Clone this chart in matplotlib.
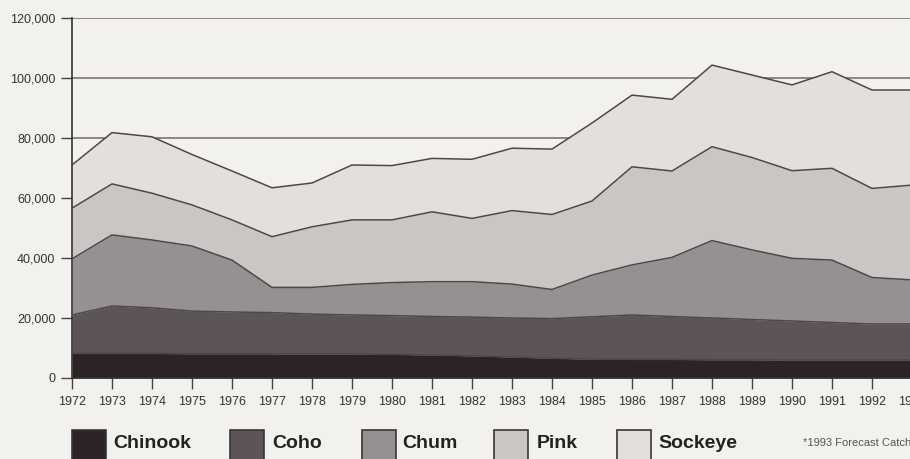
import numpy as np
import matplotlib
matplotlib.use('Agg')
import matplotlib.pyplot as plt
from matplotlib.patches import Rectangle

# catch in thousands of fish, read as cumulative tops of each band
years = list(range(1972, 1994))
chinook_top = [8.2, 8.2, 8.2, 8.1, 8.1, 8.1, 8.0, 8.0, 7.9, 7.7, 7.4, 7.0, 6.6, 6.3, 6.2, 6.2, 6.1, 6.1, 6.0, 6.0, 6.0, 6.0]
coho_top = [21.0, 24.0, 23.4, 22.3, 22.0, 21.8, 21.3, 21.0, 20.8, 20.5, 20.3, 20.0, 19.8, 20.4, 21.0, 20.5, 20.0, 19.5, 19.0, 18.5, 18.0, 18.0]
chum_top = [39.7, 47.7, 46.0, 44.0, 39.3, 30.2, 30.2, 31.2, 31.8, 32.1, 32.1, 31.3, 29.5, 34.3, 37.7, 40.2, 45.8, 42.7, 39.9, 39.3, 33.5, 32.7]
pink_top = [56.6, 64.7, 61.6, 57.7, 52.7, 47.1, 50.4, 52.7, 52.7, 55.4, 53.2, 55.8, 54.5, 59.0, 70.4, 69.0, 77.1, 73.5, 69.1, 69.9, 63.2, 64.3]
sockeye_top = [71.0, 81.8, 80.4, 74.5, 69.0, 63.4, 65.0, 71.0, 70.8, 73.2, 72.9, 76.6, 76.3, 85.0, 94.3, 92.9, 104.3, 101.0, 97.7, 102.1, 96.0, 96.0]

species = ['Chinook', 'Coho', 'Chum', 'Pink', 'Sockeye']
colors = ['#2b2326', '#5c5457', '#959091', '#c9c6c3', '#e3e0dc']
ytick_vals = [0, 20000, 40000, 60000, 80000, 100000, 120000]
ytick_labels = ['0', '20,000', '40,000', '60,000', '80,000', '100,000', '120,000']

font = ['Liberation Sans', 'DejaVu Sans']
paper = '#f3f1ed'

tops = [np.array(t) * 1000 for t in [chinook_top, coho_top, chum_top, pink_top, sockeye_top]]

fig = plt.figure(figsize=(9.1, 4.59), dpi=100, facecolor=paper)
ax = fig.add_axes([72 / 910, 81 / 459, 840 / 910, 360 / 459])
ax.set_facecolor(paper)

for y in ytick_vals[1:]:
    ax.axhline(y, color='#6d6a6a', lw=1.1, zorder=1)

bottom = np.zeros(len(years))
for top, c in zip(tops, colors):
    ax.fill_between(years, bottom, top, color=c, lw=0, zorder=2)
    ax.plot(years, top, color='#4d4749', lw=1.1, zorder=3)
    bottom = top

ax.set_xlim(1972, 1993)
ax.set_ylim(0, 120000)
ax.set_xticks(years)
ax.set_xticklabels([str(y) for y in years], family=font, fontsize=9, color='#333333')
ax.set_yticks(ytick_vals)
ax.set_yticklabels(ytick_labels, family=font, fontsize=9, color='#333333')
ax.tick_params(axis='x', direction='out', length=8, width=1, color='#444444', pad=5)
ax.tick_params(axis='y', direction='out', length=8, width=1, color='#444444', pad=4)
for s in ['top', 'right']:
    ax.spines[s].set_visible(False)
ax.spines['left'].set_color('#333333')
ax.spines['bottom'].set_color('#333333')
ax.spines['left'].set_linewidth(1.2)
ax.spines['bottom'].set_linewidth(1.2)

# legend row along the bottom
box_x = [72, 230, 362, 494, 617]
text_x = [113, 272, 402, 537, 658]
for bx, tx, name, c in zip(box_x, text_x, species, colors):
    fig.add_artist(Rectangle((bx / 910, -6 / 459), 34 / 910, 35 / 459, transform=fig.transFigure,
                             facecolor=c, edgecolor='#3a3436', lw=1.2))
    fig.text(tx / 910, 16 / 459, name, family=font, fontsize=14, fontweight='bold',
             color='#222222', va='center', ha='left')
fig.text(803 / 910, 16 / 459, '*1993 Forecast Catch', family=font, fontsize=8,
         color='#555555', va='center', ha='left')

fig.savefig('out.png', dpi=100, facecolor=paper)
